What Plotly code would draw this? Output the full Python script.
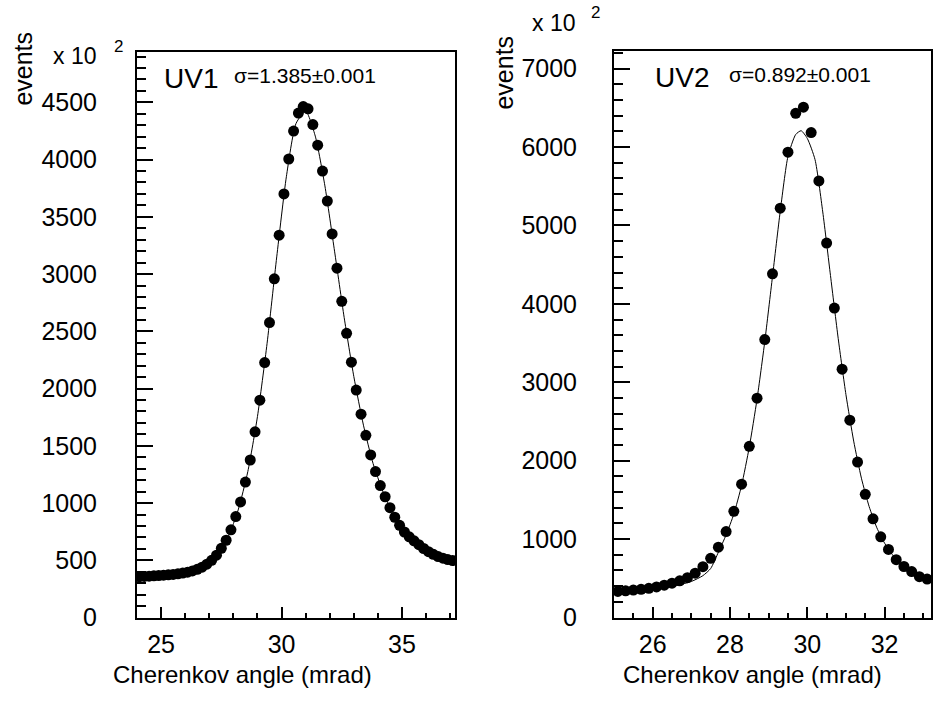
import plotly.graph_objects as go

# ---- UV1: Cherenkov angle histogram (bin centres, mrad) ----
uv1_angle = [24.1, 24.3, 24.5, 24.7, 24.9, 25.1, 25.3, 25.5, 25.7, 25.9,
             26.1, 26.3, 26.5, 26.7, 26.9, 27.1, 27.3, 27.5, 27.7, 27.9,
             28.1, 28.3, 28.5, 28.7, 28.9, 29.1, 29.3, 29.5, 29.7, 29.9,
             30.1, 30.3, 30.5, 30.7, 30.9, 31.1, 31.3, 31.5, 31.7, 31.9,
             32.1, 32.3, 32.5, 32.7, 32.9, 33.1, 33.3, 33.5, 33.7, 33.9,
             34.1, 34.3, 34.5, 34.7, 34.9, 35.1, 35.3, 35.5, 35.7, 35.9,
             36.1, 36.3, 36.5, 36.7, 36.9, 37.1]
uv1_events = [357, 359, 361, 364, 367, 370, 373, 377, 382, 388,
              396, 407, 421, 440, 466, 500, 545, 605, 675, 766,
              882, 1010, 1183, 1376, 1622, 1898, 2227, 2576, 2958, 3340,
              3700, 4005, 4249, 4406, 4463, 4443, 4306, 4126, 3900, 3638,
              3351, 3051, 2762, 2482, 2230, 1987, 1776, 1592, 1420, 1275,
              1153, 1055, 960, 876, 805, 747, 705, 670, 636, 603,
              575, 552, 533, 518, 506, 498]

# fitted curve for UV1
uv1_fit_angle = [24.0, 25.0, 26.0, 26.6, 27.0, 27.4, 27.8, 28.2, 28.6, 29.0,
                 29.4, 29.8, 30.2, 30.6, 31.0, 31.4, 31.8, 32.2, 32.6, 33.0,
                 33.4, 33.8, 34.2, 34.6, 35.0, 35.6, 36.2, 36.8, 37.2]
uv1_fit_events = [357, 370, 393, 432, 480, 570, 712, 940, 1275, 1755,
                  2395, 3150, 3850, 4315, 4425, 4205, 3770, 3200, 2620, 2105,
                  1680, 1345, 1105, 915, 780, 650, 562, 512, 496]

# ---- UV2: Cherenkov angle histogram (bin centres, mrad) ----
uv2_angle = [25.1, 25.3, 25.5, 25.7, 25.9, 26.1, 26.3, 26.5, 26.7, 26.9,
             27.1, 27.3, 27.5, 27.7, 27.9, 28.1, 28.3, 28.5, 28.7, 28.9,
             29.1, 29.3, 29.5, 29.7, 29.9, 30.1, 30.3, 30.5, 30.7, 30.9,
             31.1, 31.3, 31.5, 31.7, 31.9, 32.1, 32.3, 32.5, 32.7, 32.9,
             33.1]
uv2_events = [333, 341, 350, 360, 373, 390, 412, 438, 468, 508,
              565, 648, 755, 897, 1097, 1354, 1701, 2183, 2798, 3545,
              4383, 5220, 5934, 6430, 6508, 6185, 5568, 4775, 3947, 3167,
              2517, 1983, 1571, 1259, 1029, 868, 738, 651, 586, 521,
              491]

# fitted curve for UV2
uv2_fit_angle = [25.0, 25.5, 26.0, 26.5, 27.0, 27.3, 27.5, 27.7, 27.9, 28.1,
                 28.3, 28.5, 28.7, 28.9, 29.1, 29.3, 29.5, 29.7, 29.84, 30.0,
                 30.2, 30.4, 30.6, 30.8, 31.0, 31.2, 31.4, 31.6, 31.8, 32.0,
                 32.2, 32.4, 32.6, 32.8, 33.0, 33.2]
uv2_fit_events = [322, 340, 362, 395, 460, 534, 625, 833, 1054, 1320,
                  1685, 2175, 2785, 3520, 4350, 5180, 5880, 6160, 6208, 6110,
                  5840, 5172, 4361, 3557, 2842, 2250, 1777, 1415, 1144, 948,
                  803, 694, 618, 553, 506, 480]

W, H = 933, 708
FONT = "Liberation Sans, Arial, Helvetica, sans-serif"


def px(x):
    return x / W


def py(y):
    return 1 - y / H


fig = go.Figure()

marker = dict(symbol="circle", size=11, color="black", line=dict(width=0))
fit_line = dict(color="black", width=1, shape="spline", smoothing=0.6)

fig.add_trace(go.Scatter(x=uv1_fit_angle, y=uv1_fit_events, mode="lines",
                         line=fit_line, xaxis="x", yaxis="y", hoverinfo="skip"))
fig.add_trace(go.Scatter(x=uv1_angle, y=uv1_events, mode="markers",
                         marker=marker, xaxis="x", yaxis="y"))
fig.add_trace(go.Scatter(x=uv2_fit_angle, y=uv2_fit_events, mode="lines",
                         line=fit_line, xaxis="x2", yaxis="y2", hoverinfo="skip"))
fig.add_trace(go.Scatter(x=uv2_angle, y=uv2_events, mode="markers",
                         marker=marker, xaxis="x2", yaxis="y2"))

axis_common = dict(showline=True, linecolor="black", linewidth=2, mirror=True,
                   showgrid=False, zeroline=False, ticks="inside",
                   tickcolor="black", tickwidth=2,
                   tickfont=dict(family=FONT, size=25, color="black"))

xlen, xminor = 11, 5
ylen, yminor = 16, 9

fig.update_layout(
    width=W, height=H,
    margin=dict(l=0, r=0, t=0, b=0),
    paper_bgcolor="white", plot_bgcolor="white",
    showlegend=False,
    xaxis=dict(axis_common, domain=[px(137), px(455)], range=[24, 37.2],
               anchor="y", tickmode="linear", tick0=25, dtick=5, ticklen=xlen,
               ticklabelstandoff=3,
               minor=dict(ticks="inside", ticklen=xminor, tickwidth=1.5,
                          tickcolor="black", dtick=1, tick0=25, showgrid=False)),
    yaxis=dict(axis_common, domain=[py(630), py(53)], range=[0, 4940],
               anchor="x", tickmode="linear", tick0=0, dtick=500, ticklen=ylen,
               ticklabelstandoff=33,
               minor=dict(ticks="inside", ticklen=yminor, tickwidth=1.5,
                          tickcolor="black", dtick=100, tick0=0, showgrid=False)),
    xaxis2=dict(axis_common, domain=[px(614), px(931)], range=[25, 33.2],
                anchor="y2", tickmode="linear", tick0=26, dtick=2, ticklen=xlen,
                ticklabelstandoff=3,
                minor=dict(ticks="inside", ticklen=xminor, tickwidth=1.5,
                           tickcolor="black", dtick=0.5, tick0=26, showgrid=False)),
    yaxis2=dict(axis_common, domain=[py(630), py(52)], range=[0, 7225],
                anchor="x2", tickmode="linear", tick0=0, dtick=1000, ticklen=ylen,
                ticklabelstandoff=30,
                minor=dict(ticks="inside", ticklen=yminor, tickwidth=1.5,
                           tickcolor="black", dtick=200, tick0=0, showgrid=False)),
)


def note(text, x, y, size, xanchor="center", yanchor="middle", angle=0):
    fig.add_annotation(text=text, x=px(x), y=py(y), xref="paper", yref="paper",
                       showarrow=False, xanchor=xanchor, yanchor=yanchor,
                       textangle=angle,
                       font=dict(family=FONT, size=size, color="black"))


# axis titles
note("events", 23, 70, 25, angle=-90)
note("events", 504, 74, 25, angle=-90)
note("Cherenkov angle (mrad)", 242, 688, 24)
note("Cherenkov angle (mrad)", 752, 688, 24)

# exponent labels
note("x 10", 98, 57, 23, xanchor="right")
note("2", 112, 47, 17, xanchor="left")
note("x 10", 577, 23, 23, xanchor="right")
note("2", 589, 13, 17, xanchor="left")

# panel labels and fitted widths
note("UV1", 191, 80, 28)
note("\u03c3=1.385\u00b10.001", 305, 77, 21)
note("UV2", 682, 79, 28)
note("\u03c3=0.892\u00b10.001", 800, 76, 21)

fig.write_html("out.html")
